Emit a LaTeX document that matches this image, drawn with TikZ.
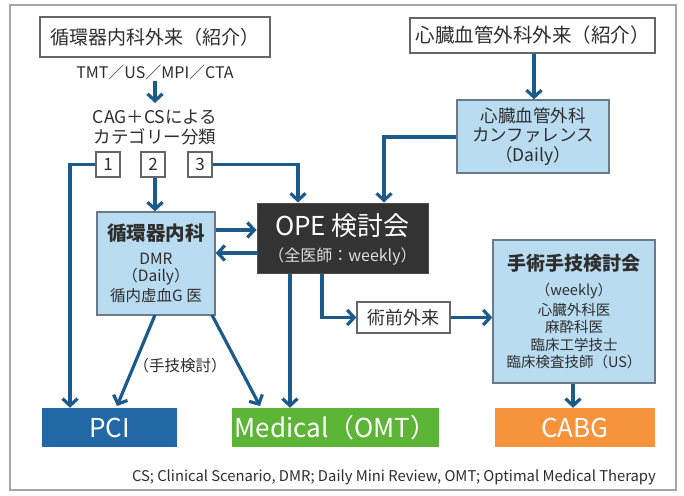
\documentclass[tikz,border=0pt]{standalone}
\usepackage{fontspec}
\setmainfont{Noto Sans CJK JP}
\usetikzlibrary{arrows.meta}
\definecolor{lineblue}{HTML}{1C5A8C}
\definecolor{lightbox}{HTML}{B9DCF1}
\definecolor{boxedge}{HTML}{6A7A88}
\definecolor{darkbox}{HTML}{333333}
\definecolor{pciblue}{HTML}{2268A6}
\definecolor{medgreen}{HTML}{5DB538}
\definecolor{cabgorange}{HTML}{F7933B}
\definecolor{txt}{HTML}{2E2E2E}
\newcommand{\fs}[1]{\fontsize{#1}{#1}\selectfont}
\tikzset{
  conn/.style={draw=lineblue, line width=3.2pt, -{Straight Barb[length=7pt,width=15pt,line width=3.2pt]}},
  whitebox/.style={draw=gray!80!black, line width=1.3pt, fill=white, inner sep=0pt, text=txt},
  numbox/.style={whitebox, minimum width=24pt, minimum height=25pt, font=\fs{17}},
  bluebox/.style={draw=boxedge, line width=1.3pt, fill=lightbox, inner sep=0pt, text=txt, align=center},
  resbox/.style={inner sep=0pt, minimum height=39pt, text=white, font=\fs{26}},
  plaintext/.style={inner sep=0pt, text=txt, align=center}
}
\begin{document}
\begin{tikzpicture}[x=1pt,y=-1pt]
\useasboundingbox (0,0) rectangle (684,495);
\fill[white] (0,0) rectangle (684,495);
\draw[gray!70, line width=1.5pt] (10,5) rectangle (676,490);

% top left
\node[whitebox, minimum width=230pt, minimum height=40pt, font=\fs{19}] (g1) at (155,37) {循環器内科外来（紹介）};
\node[plaintext, font=\fs{16}] (tmt) at (155,72) {TMT／US／MPI／CTA};
\node[plaintext, font=\fs{17.5}, align=center] (cag) at (155,127.5) {CAG＋CSによる\\[3pt]カテゴリー分類};
\coordinate (ta) at (155,81);
\coordinate (tb) at (155,103);
\draw[conn] (ta) -- (tb);

\node[numbox] (n1) at (108,164.5) {1};
\node[numbox] (n2) at (153,164.5) {2};
\node[numbox] (n3) at (200,164.5) {3};

% top right
\node[whitebox, minimum width=245pt, minimum height=35pt, font=\fs{19.5}] (g2) at (532.5,35.5) {心臓血管外科外来（紹介）};
\node[bluebox, minimum width=152pt, minimum height=73pt, font=\fs{17.5}] (conf) at (533,136.5) {心臓血管外科\\[2pt]カンファレンス\\[2pt]（Daily）};

% middle
\node[bluebox, minimum width=118pt, minimum height=103pt] (jk) at (156,263.5) {};
\node[plaintext, font=\bfseries\fs{19.5}] (jkt) at (156,233) {循環器内科};
\node[plaintext, font=\fs{15.5}] (jkb) at (156,278) {DMR\\[2pt]（Daily）\\[2pt]循内虚血G 医};

\node[fill=darkbox, draw=gray!60!black, line width=1pt, minimum width=171pt, minimum height=70pt, inner sep=0pt] (ope) at (342.5,238) {};
\node[inner sep=0pt, text=white, font=\fs{26}] (opet) at (342.5,226) {OPE 検討会};
\node[inner sep=0pt, text=gray!25, font=\fs{16}] (opeb) at (342.5,257) {（全医師：weekly）};

\node[whitebox, minimum width=93pt, minimum height=31pt, font=\fs{18}] (jz) at (403.5,317.5) {術前外来};

\node[bluebox, minimum width=162pt, minimum height=143pt] (sj) at (574,311.5) {};
\node[plaintext, font=\bfseries\fs{19}] (sjt) at (574,263) {手術手技検討会};
\node[plaintext, font=\fs{14.5}] (sjb) at (574,326) {（weekly）\\[3pt]心臓外科医\\[3pt]麻酔科医\\[3pt]臨床工学技士\\[3pt]臨床検査技師（US）};

% results
\node[resbox, fill=pciblue, minimum width=135pt] (pci) at (109.5,427.5) {PCI};
\node[resbox, fill=medgreen, minimum width=207pt] (med) at (335.5,427.5) {Medical（OMT）};
\node[resbox, fill=cabgorange, minimum width=160pt] (cabg) at (575,427.5) {CABG};

\node[plaintext, anchor=east, font=\fs{14.8}] (foot) at (656,477) {CS; Clinical Scenario, DMR; Daily Mini Review, OMT; Optimal Medical Therapy};

% connectors
\draw[conn] (g2.south -| 534,0) -- (conf.north -| 534,0);
\draw[conn] (n1.west) -| (pci.north -| 70,0);
\draw[conn] (n3.east) -| (ope.north -| 298,0);
\draw[conn] (n2.south -| 155,0) -- (jk.north -| 155,0);
\draw[conn] (conf.west |- 0,137) -| (ope.north -| 384,0);

\draw[conn] (jk.east |- 0,230) -- (ope.west |- 0,230);
\draw[conn] (ope.west |- 0,253) -- (jk.east |- 0,253);

\draw[conn] (ope.south -| 290,0) -- (med.north -| 290,0);
\draw[conn] (ope.south -| 322,0) |- (jz.west);
\draw[conn] (jz.east) -- (sj.west |- jz.east);
\draw[conn] (sj.south -| 573,0) -- (cabg.north -| 573,0);

\coordinate (d1a) at (155,315);
\coordinate (d1b) at (117,406);
\coordinate (d2a) at (212,315);
\coordinate (d2b) at (260,406);
\draw[conn] (d1a) -- (d1b);
\draw[conn] (d2a) -- (d2b);
\node[plaintext, font=\fs{15.5}] (tk) at (180,366) {（手技検討）};
\end{tikzpicture}
\end{document}
